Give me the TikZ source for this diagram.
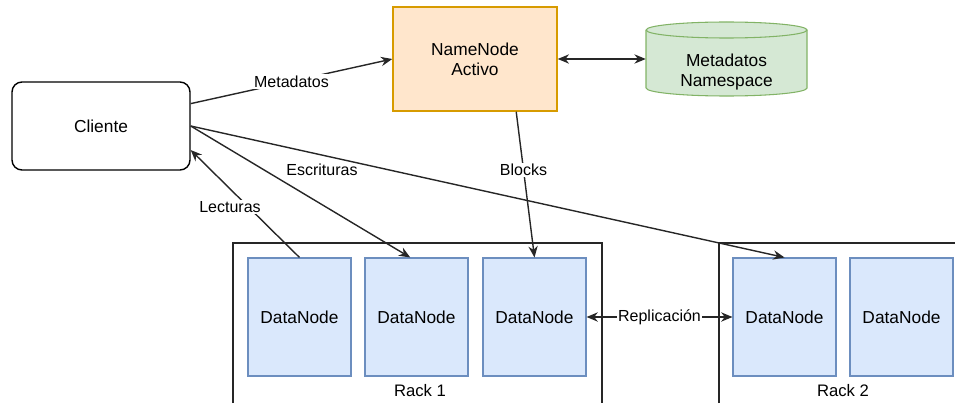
\documentclass[tikz,border=0pt]{standalone}
\usepackage{fontspec}
\setmainfont{Liberation Sans}
\usetikzlibrary{arrows.meta}

\definecolor{nnfill}{RGB}{255,230,204}
\definecolor{nnline}{RGB}{215,155,0}
\definecolor{dbfill}{RGB}{213,232,212}
\definecolor{dbline}{RGB}{130,179,102}
\definecolor{dnfill}{RGB}{218,232,252}
\definecolor{dnline}{RGB}{108,142,191}

\begin{document}
\begin{tikzpicture}[x=0.75pt,y=0.75pt,yscale=-1,xscale=1,
    conn/.style={draw=black!85, line width=1.05pt, -{Stealth[length=8.5pt,width=7pt]}},
    lbl/.style={font=\fontsize{12}{14}\selectfont, fill=white, inner sep=1pt},
    datanode/.style={draw=dnline, fill=dnfill, line width=0.8pt, minimum width=77.25pt, minimum height=88.5pt, font=\fontsize{13}{15}\selectfont}]
                \useasboundingbox (0,0) rectangle (955,403);

                % Racks
                \draw [line width=1.05pt, black!85] (233,403) -- (233,243) -- (602,243) -- (602,403) ;
                \draw [line width=1.05pt, black!85] (719,403) -- (719,243) -- (955,243) ;

                % Cliente
                \node [draw, rounded corners=7.5pt, line width=1.05pt, minimum width=133.5pt, minimum height=66pt, font=\fontsize{13}{15}\selectfont] (cliente) at (101,126) {Cliente};
                % NameNode
                \node [draw=nnline, fill=nnfill, line width=1.1pt, minimum width=123pt, minimum height=78pt, align=center, font=\fontsize{13}{15}\selectfont] (namenode) at (475,59) {NameNode\\Activo};

                % Cylinder: Metadatos Namespace
                \filldraw [fill=dbfill, draw=dbline, line width=0.8pt] (646,30) -- (646,88) arc [start angle=180, end angle=0, x radius=80.5, y radius=8] -- (807,30) arc [start angle=0, end angle=-180, x radius=80.5, y radius=8] -- cycle ;
                \draw [dbline, line width=0.8pt] (646,30) arc [start angle=180, end angle=0, x radius=80.5, y radius=8] ;
                \node [minimum width=120.75pt, minimum height=45pt, align=center, font=\fontsize{13}{15}\selectfont] (meta) at (726.5,72) {Metadatos\\Namespace};

                % DataNodes
                \node [datanode] (dn1) at (299.5,317) {DataNode};
                \node [datanode] (dn2) at (416.5,317) {DataNode};
                \node [datanode] (dn3) at (534.5,317) {DataNode};
                \node [datanode] (dn4) at (784.5,317) {DataNode};
                \node [datanode] (dn5) at (901.5,317) {DataNode};

                % Rack labels
                \node [font=\fontsize{12.5}{14}\selectfont] (rack1) at (420,391) {Rack 1};
                \node [font=\fontsize{12.5}{14}\selectfont] (rack2) at (843,391) {Rack 2};

                % Connectors
                \draw [conn] (cliente.14) -- node [lbl] {Metadatos} (namenode.west) ;
                \draw [conn, {Stealth[length=8.5pt,width=7pt]}-{Stealth[length=8.5pt,width=7pt]}] (namenode.east) -- (namenode.east -| meta.west) ;
                \draw [conn] (cliente.east) -- (dn2.96) ;
                \draw [conn] (cliente.east) -- (dn4.north) ;
                \draw [conn] (dn1.north) -- (cliente.-15) ;
                \draw [conn] (namenode.-52) -- node [lbl, pos=0.4] {Blocks} (dn3.north) ;
                \draw [conn, {Stealth[length=8.5pt,width=7pt]}-{Stealth[length=8.5pt,width=7pt]}] (dn3.east) -- node [lbl] {Replicación} (dn4.west) ;

                % Text Node
                \node [lbl] (lect) at (230,207) {Lecturas};
                % Text Node
                \node [lbl, fill=none] (escr) at (322,170) {Escrituras};

\end{tikzpicture}
\end{document}
